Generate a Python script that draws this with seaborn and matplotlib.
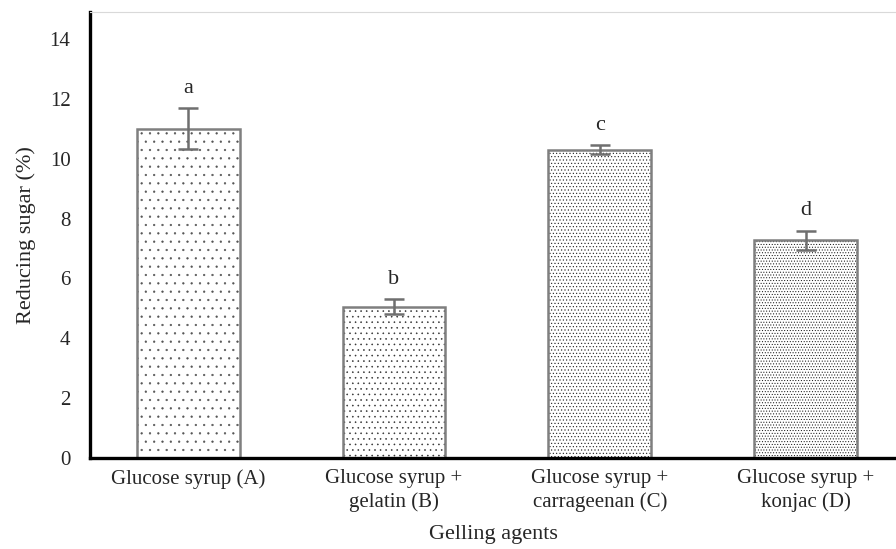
import matplotlib
matplotlib.use('Agg')
import matplotlib.pyplot as plt
import seaborn as sns
import pandas as pd

sns.set_style('white')
plt.rcParams['font.family'] = ['Liberation Serif', 'DejaVu Serif']
plt.rcParams['hatch.linewidth'] = 0.4

categories = ['Glucose syrup (A)', 'Glucose syrup +\ngelatin (B)',
              'Glucose syrup +\ncarrageenan (C)', 'Glucose syrup +\nkonjac (D)']
sugar = [11.0, 5.05, 10.3, 7.28]
sugar_err = [0.68, 0.25, 0.15, 0.32]
letters = ['a', 'b', 'c', 'd']
hatches = ['..', '...', '.....', '......']
dot_colors = ['#555555', '#333333', '#1a1a1a', '#111111']

df = pd.DataFrame({'agent': categories, 'sugar': sugar})

fig = plt.figure(figsize=(8.96, 5.49), dpi=100)
ax = fig.add_axes([0.1004, 0.1658, 0.8996, 0.8122])

# hatched fill (dark dots), then a gray outline on top
sns.barplot(x='agent', y='sugar', data=df, color='white', width=0.5,
            linewidth=0, errorbar=None, ax=ax)
for patch, h, c in zip(ax.patches, hatches, dot_colors):
    patch.set_hatch(h)
    patch.set_edgecolor(c)
    patch.set_facecolor('white')
sns.barplot(x='agent', y='sugar', data=df, color='none', width=0.5,
            edgecolor='#7f7f7f', linewidth=1.8, errorbar=None, fill=False, ax=ax)

ax.errorbar(range(len(sugar)), sugar, yerr=sugar_err, fmt='none',
            ecolor='#6f6f6f', elinewidth=1.8, capsize=7, capthick=1.8)

for i, (v, e, t) in enumerate(zip(sugar, sugar_err, letters)):
    ax.text(i, v + e + 0.35, t, ha='center', va='bottom', fontsize=16)

ax.set_xlim(-0.476, 3.437)
ax.set_ylim(0, 14.9)
ax.set_yticks(range(0, 15, 2))
ax.tick_params(axis='both', length=0, labelsize=15)
ax.tick_params(axis='y', pad=14)
ax.tick_params(axis='x', pad=8)
for lbl in ax.get_xticklabels():
    lbl.set_linespacing(1.25)
ax.set_xlabel('Gelling agents', fontsize=16, labelpad=10)
ax.set_ylabel('Reducing sugar (%)', fontsize=16, labelpad=10)

for s in ['left', 'bottom']:
    ax.spines[s].set_linewidth(2.4)
    ax.spines[s].set_color('black')
ax.spines['top'].set_color('#d9d9d9')
ax.spines['top'].set_linewidth(0.8)
ax.spines['right'].set_visible(False)

fig.savefig('out.png', dpi=100)
